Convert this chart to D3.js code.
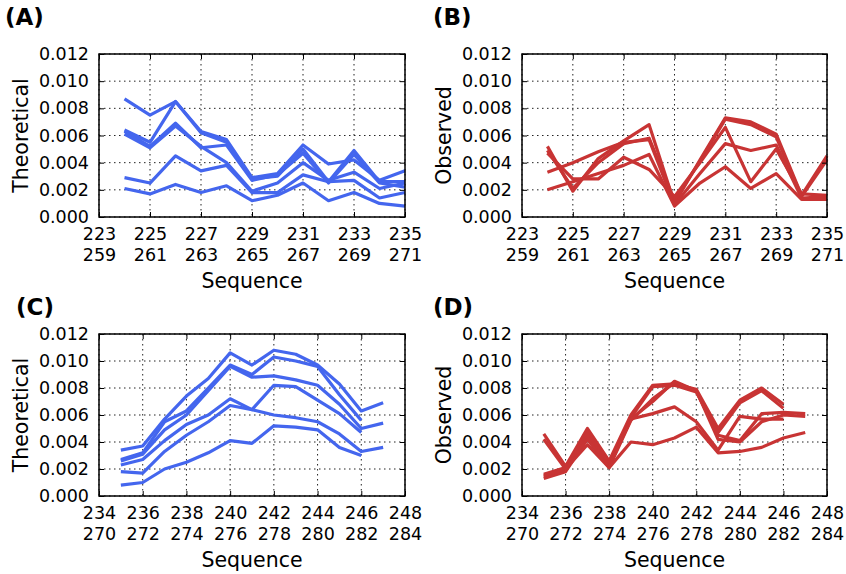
<!DOCTYPE html>
<html>
<head>
<meta charset="utf-8">
<script src="https://cdn.jsdelivr.net/npm/d3@7"></script>
<style>
body { margin: 0; background: #fff; }
text { font-family: "DejaVu Sans", sans-serif; fill: #000; }
</style>
</head>
<body>
<svg id="chart" width="846" height="574"></svg>
<script>
// x positions (residue numbers) for each pair of panels
let seqTop = [224, 225, 226, 227, 228, 229, 230, 231, 232, 233, 234, 235];
let seqBottom = [235, 236, 237, 238, 239, 240, 241, 242, 243, 244, 245, 246, 247];

// tick labels: first and second numbering
let ticksTop = [223, 225, 227, 229, 231, 233, 235];
let ticksTop2 = ['259', '261', '263', '265', '267', '269', '271'];
let ticksBottom = [234, 236, 238, 240, 242, 244, 246, 248];
let ticksBottom2 = ['270', '272', '274', '276', '278', '280', '282', '284'];
let yTicks = [0, 0.002, 0.004, 0.006, 0.008, 0.010, 0.012];

// (A) theoretical
let theoA = [
    [0.0087, 0.0075, 0.0085, 0.0063, 0.0057, 0.0029, 0.0032, 0.0053, 0.0039, 0.0042, 0.0027, 0.0034],
    [0.0064, 0.0055, 0.0085, 0.0062, 0.0055, 0.0028, 0.0030, 0.0050, 0.0026, 0.0049, 0.0026, 0.0026],
    [0.0063, 0.0052, 0.0069, 0.0051, 0.0053, 0.0027, 0.0031, 0.0047, 0.0025, 0.0046, 0.0025, 0.0022],
    [0.0061, 0.0051, 0.0067, 0.0052, 0.0040, 0.0019, 0.0025, 0.0040, 0.0027, 0.0033, 0.0021, 0.0025],
    [0.0029, 0.0025, 0.0045, 0.0034, 0.0038, 0.0018, 0.0018, 0.0031, 0.0026, 0.0027, 0.0014, 0.0018],
    [0.0021, 0.0017, 0.0024, 0.0018, 0.0023, 0.0012, 0.0016, 0.0025, 0.0012, 0.0018, 0.0010, 0.0008]
];

// (B) observed
let obsB = [
    [0.0052, 0.0019, 0.0043, 0.0056, 0.0068, 0.0010, 0.0042, 0.0073, 0.0070, 0.0061, 0.0016, 0.0045],
    [0.0049, 0.0021, 0.0040, 0.0054, 0.0058, 0.0012, 0.0041, 0.0072, 0.0068, 0.0059, 0.0015, 0.0042],
    [0.0047, 0.0028, 0.0028, 0.0044, 0.0035, 0.0015, 0.0040, 0.0066, 0.0026, 0.0050, 0.0017, 0.0016],
    [0.0033, 0.0040, 0.0048, 0.0055, 0.0057, 0.0009, 0.0032, 0.0054, 0.0049, 0.0053, 0.0014, 0.0015],
    [0.0020, 0.0026, 0.0032, 0.0038, 0.0046, 0.0008, 0.0025, 0.0037, 0.0021, 0.0032, 0.0013, 0.0013]
];

// (C) theoretical
let theoC = [
    [0.0034, 0.0037, 0.0057, 0.0074, 0.0087, 0.0106, 0.0097, 0.0108, 0.0105, 0.0097, 0.0083, 0.0063, 0.0069],
    [0.0027, 0.0032, 0.0055, 0.0063, 0.0080, 0.0097, 0.0090, 0.0103, 0.0100, 0.0096, 0.0075, 0.0056],
    [0.0026, 0.0031, 0.0049, 0.0060, 0.0078, 0.0096, 0.0088, 0.0089, 0.0086, 0.0082, 0.0068, 0.0050, 0.0054],
    [0.0023, 0.0027, 0.0041, 0.0053, 0.0060, 0.0072, 0.0064, 0.0082, 0.0081, 0.0071, 0.0061, 0.0047],
    [0.0018, 0.0017, 0.0033, 0.0045, 0.0055, 0.0067, 0.0064, 0.0060, 0.0058, 0.0055, 0.0046, 0.0033, 0.0036],
    [0.0008, 0.0010, 0.0020, 0.0025, 0.0032, 0.0041, 0.0039, 0.0052, 0.0051, 0.0049, 0.0036, 0.0030]
];

// (D) observed
let obsD = [
    [0.0046, 0.0022, 0.0050, 0.0026, 0.0060, 0.0082, 0.0083, 0.0079, 0.0050, 0.0071, 0.0080, 0.0068],
    [0.0042, 0.0020, 0.0048, 0.0024, 0.0058, 0.0081, 0.0082, 0.0077, 0.0047, 0.0069, 0.0078, 0.0065],
    [0.0016, 0.0021, 0.0046, 0.0023, 0.0057, 0.0070, 0.0085, 0.0078, 0.0045, 0.0041, 0.0061, 0.0062, 0.0061],
    [0.0014, 0.0019, 0.0044, 0.0022, 0.0057, 0.0061, 0.0066, 0.0055, 0.0034, 0.0059, 0.0057, 0.0057],
    [0.0013, 0.0018, 0.0042, 0.0021, 0.0056, 0.0072, 0.0084, 0.0078, 0.0042, 0.0040, 0.0055, 0.0060, 0.0059],
    [0.0015, 0.0020, 0.0038, 0.0021, 0.0040, 0.0038, 0.0043, 0.0051, 0.0032, 0.0033, 0.0036, 0.0043, 0.0047]
];

let blue = '#4466ee';
let red = '#c83434';

let svg = d3.select('#chart');

//one subplot
function drawPanel(p) {
    let x = d3.scaleLinear().domain(p.xDomain).range([p.left, p.right]);
    let y = d3.scaleLinear().domain([0, 0.012]).range([p.bottom, p.top]);
    let g = svg.append('g');

    //dotted grid
    g.selectAll('.vgrid').data(p.xTicks).enter().append('line')
        .attr('x1', d => x(d)).attr('x2', d => x(d))
        .attr('y1', p.top).attr('y2', p.bottom)
        .attr('stroke', '#222').attr('stroke-width', 1)
        .attr('stroke-dasharray', '1.5,3.5');
    g.selectAll('.hgrid').data(yTicks).enter().append('line')
        .attr('x1', p.left).attr('x2', p.right)
        .attr('y1', d => y(d)).attr('y2', d => y(d))
        .attr('stroke', '#222').attr('stroke-width', 1)
        .attr('stroke-dasharray', '1.5,3.5');

    //series lines
    let line = d3.line()
        .x((d, i) => x(p.seq[i]))
        .y(d => y(d));
    g.selectAll('.series').data(p.series).enter().append('path')
        .attr('d', line)
        .attr('fill', 'none')
        .attr('stroke', p.color)
        .attr('stroke-width', 3.2)
        .attr('stroke-linejoin', 'round');

    //axes, ticks pointing inward
    let xAxis = g.append('g')
        .attr('transform', `translate(0,${p.bottom})`)
        .call(d3.axisBottom(x).tickValues(p.xTicks).tickSize(-5).tickPadding(11));
    xAxis.selectAll('.tick text').each(function(d, i) {
        let t = d3.select(this);
        t.text(null);
        t.append('tspan').attr('x', 0).text(d);
        t.append('tspan').attr('x', 0).attr('dy', 20.5).text(p.xTicks2[i]);
    });
    g.append('g')
        .attr('transform', `translate(0,${p.top})`)
        .call(d3.axisTop(x).tickValues(p.xTicks).tickSize(-5).tickFormat(''));
    g.append('g')
        .attr('transform', `translate(${p.left},0)`)
        .call(d3.axisLeft(y).tickValues(yTicks).tickSize(-5).tickPadding(10).tickFormat(d3.format('.3f')));
    g.append('g')
        .attr('transform', `translate(${p.right},0)`)
        .call(d3.axisRight(y).tickValues(yTicks).tickSize(-5).tickFormat(''));
    g.selectAll('.domain').remove();
    g.selectAll('.tick line').attr('stroke', '#000').attr('stroke-width', 1);
    g.selectAll('.tick text')
        .style('font-family', '"DejaVu Sans", sans-serif')
        .style('font-size', '17.5px')
        .attr('fill', '#000');

    //frame
    g.append('rect')
        .attr('x', p.left).attr('y', p.top)
        .attr('width', p.right - p.left).attr('height', p.bottom - p.top)
        .attr('fill', 'none').attr('stroke', '#000').attr('stroke-width', 1.5);

    //axis titles
    g.append('text')
        .attr('x', (p.left + p.right) / 2)
        .attr('y', p.bottom + 71)
        .attr('text-anchor', 'middle')
        .style('font-size', '20.5px')
        .text('Sequence');
    g.append('text')
        .attr('transform', 'rotate(-90)')
        .attr('x', -(p.top + p.bottom) / 2)
        .attr('y', p.left - 71)
        .attr('text-anchor', 'middle')
        .style('font-size', '20.5px')
        .text(p.ylabel);

    //panel letter
    g.append('text')
        .attr('x', p.lx).attr('y', p.ly)
        .style('font-size', '23px')
        .style('font-weight', 'bold')
        .text(p.letter);
}

drawPanel({letter: '(A)', lx: 5, ly: 25, left: 99, right: 405, top: 54, bottom: 217,
    xDomain: [223, 235], xTicks: ticksTop, xTicks2: ticksTop2, seq: seqTop,
    series: theoA, color: blue, ylabel: 'Theoretical'});
drawPanel({letter: '(B)', lx: 433, ly: 25, left: 522, right: 827, top: 54, bottom: 217,
    xDomain: [223, 235], xTicks: ticksTop, xTicks2: ticksTop2, seq: seqTop,
    series: obsB, color: red, ylabel: 'Observed'});
drawPanel({letter: '(C)', lx: 16, ly: 315, left: 99, right: 405, top: 334, bottom: 496,
    xDomain: [234, 248], xTicks: ticksBottom, xTicks2: ticksBottom2, seq: seqBottom,
    series: theoC, color: blue, ylabel: 'Theoretical'});
drawPanel({letter: '(D)', lx: 433, ly: 315, left: 522, right: 827, top: 334, bottom: 496,
    xDomain: [234, 248], xTicks: ticksBottom, xTicks2: ticksBottom2, seq: seqBottom,
    series: obsD, color: red, ylabel: 'Observed'});
</script>
</body>
</html>
